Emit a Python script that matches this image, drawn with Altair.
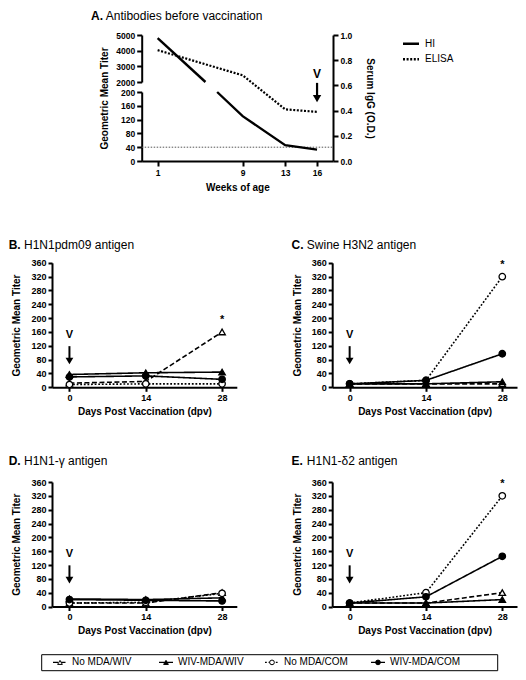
import altair as alt
import pandas as pd

# ---------------- data ----------------
GROUPS = ["No MDA/WIV", "WIV-MDA/WIV", "No MDA/COM", "WIV-MDA/COM"]
GROUP_SHAPES = ["triangle-up", "triangle-up", "circle", "circle"]
GROUP_FILLS = ["white", "black", "white", "black"]
GROUP_DASHES = [[5, 2.5], [1, 0], [1.8, 1.8], [1, 0]]

DAYS = [0, 14, 28]
TITER_TICKS = [0, 40, 80, 120, 160, 200, 240, 280, 320, 360]

# geometric mean titers at 0 / 14 / 28 dpv, one row per group (order of GROUPS)
B_TITERS = [[12, 17, 160], [37, 42, 44], [8, 10, 10], [30, 33, 23]]
C_TITERS = [[10, 10, 10], [10, 10, 16], [10, 20, 320], [10, 20, 97]]
D_TITERS = [[10, 10, 40], [22, 20, 25], [10, 12, 38], [20, 18, 16]]
E_TITERS = [[10, 10, 40], [10, 10, 20], [10, 40, 320], [10, 28, 145]]

B_STAR = 196
C_STAR = 353
E_STAR = 353

V_LABEL_TITER = 151
ARROW_TOP_TITER = 119
ARROW_HEAD_TITER = 76

# Panel A
WEEK_TICKS = [1, 9, 13, 16]
HI_UPPER_WEEKS = [1, 5.5]
HI_UPPER = [4800, 2000]
HI_LOWER_WEEKS = [6.6, 9, 13, 16]
HI_LOWER = [200, 130, 46, 33]
ELISA_WEEKS = [1, 9, 13, 16]
ELISA_OD = [0.88, 0.68, 0.41, 0.39]
HI_CUTOFF = 40
HI_LOW_TICKS = [0, 40, 80, 120, 160, 200]
HI_HIGH_TICKS = [2000, 3000, 4000, 5000]
OD_TICKS = [0.0, 0.2, 0.4, 0.6, 0.8, 1.0]
VACC_WEEK = 16
A_V_OD = 0.69
A_ARROW_TOP_OD = 0.62
A_ARROW_HEAD_OD = 0.495

# ---------------- layout (page pixels -> canvas pixels) ----------------
W, H = 510, 664
MARGIN = 8
FONT = "Liberation Sans"


def c(p):
    return p - MARGIN


A_WEEK_DOMAIN = [-0.5, 17.5]
A_X = [c(141.7), c(333)]
A_LOW_Y = [c(161), c(92)]
A_HIGH_Y = [c(82), c(35)]
A_OD_Y = [c(161), c(35)]

DAY_DOMAIN = [-3.2, 30.7]
LEFT_X = [c(52), c(236.8)]
RIGHT_X = [c(332.2), c(517)]
ROW1_Y = [c(387.3), c(262.8)]
ROW2_Y = [c(606.5), c(482)]

DASH_SCALE = alt.Scale(domain=GROUPS, range=GROUP_DASHES)
SHAPE_SCALE = alt.Scale(domain=GROUPS, range=GROUP_SHAPES)
FILL_SCALE = alt.Scale(domain=GROUPS, range=GROUP_FILLS)


def lin(domain, rng):
    return alt.Scale(domain=domain, range=rng, nice=False, zero=False)


def title_marks(letter, name, x, base, letter_w):
    t1 = alt.Chart(pd.DataFrame({"t": [letter]})).mark_text(
        align="left", baseline="alphabetic", fontSize=12, fontWeight="bold", color="black"
    ).encode(x=alt.value(x), y=alt.value(base), text="t:N")
    t2 = alt.Chart(pd.DataFrame({"t": [name]})).mark_text(
        align="left", baseline="alphabetic", fontSize=12, fontWeight="normal", color="black"
    ).encode(x=alt.value(x + letter_w), y=alt.value(base), text="t:N")
    return [t1, t2]


def panel(titers, xr, yr, star, letter, name, title_x, title_base):
    df = pd.DataFrame({
        "day": [d for _ in GROUPS for d in DAYS],
        "titer": [v for row in titers for v in row],
        "group": [g for g in GROUPS for _ in DAYS],
    })
    xs = lin(DAY_DOMAIN, xr)
    ys = lin([0, 360], yr)
    x_axis = alt.Axis(orient="bottom", offset=yr[0] - H, values=DAYS,
                      title="Days Post Vaccination (dpv)", titlePadding=4)
    y_axis = alt.Axis(orient="left", offset=-xr[0], values=TITER_TICKS,
                      title="Geometric Mean Titer", titlePadding=9)
    base = alt.Chart(df)
    lines = base.mark_line(color="black", strokeWidth=1.6).encode(
        x=alt.X("day:Q", scale=xs, axis=x_axis),
        y=alt.Y("titer:Q", scale=ys, axis=y_axis),
        strokeDash=alt.StrokeDash("group:N", scale=DASH_SCALE, legend=None),
        detail="group:N",
    )
    pts = base.mark_point(filled=True, size=42, stroke="black", strokeWidth=1.3, opacity=1).encode(
        x=alt.X("day:Q", scale=xs, axis=None),
        y=alt.Y("titer:Q", scale=ys, axis=None),
        shape=alt.Shape("group:N", scale=SHAPE_SCALE, legend=None),
        fill=alt.Fill("group:N", scale=FILL_SCALE, legend=None),
    )
    ann = pd.DataFrame({"day": [DAYS[0]], "v": [V_LABEL_TITER],
                        "top": [ARROW_TOP_TITER], "head": [ARROW_HEAD_TITER]})
    v_text = alt.Chart(ann).mark_text(text="V", fontSize=11, fontWeight="bold",
                                      baseline="middle", color="black").encode(
        x=alt.X("day:Q", scale=xs, axis=None), y=alt.Y("v:Q", scale=ys, axis=None))
    shaft = alt.Chart(ann).mark_rule(strokeWidth=2, color="black").encode(
        x=alt.X("day:Q", scale=xs, axis=None), y=alt.Y("top:Q", scale=ys, axis=None), y2="head:Q")
    head = alt.Chart(ann).mark_point(shape="triangle-down", filled=True, size=60,
                                     color="black", opacity=1).encode(
        x=alt.X("day:Q", scale=xs, axis=None), y=alt.Y("head:Q", scale=ys, axis=None))
    out = [lines, pts, v_text, shaft, head]
    if star is not None:
        sdf = pd.DataFrame({"day": [DAYS[-1]], "titer": [star]})
        out.append(alt.Chart(sdf).mark_text(text="*", fontSize=11, fontWeight="bold",
                                            baseline="middle", color="black").encode(
            x=alt.X("day:Q", scale=xs, axis=None), y=alt.Y("titer:Q", scale=ys, axis=None)))
    out += title_marks(letter, name, title_x, title_base, 15.3)
    return out


layers = []

# ---------------- Panel A ----------------
ax_s = lin(A_WEEK_DOMAIN, A_X)
low_s = lin([0, 200], A_LOW_Y)
high_s = lin([2000, 5000], A_HIGH_Y)
od_s = lin([0, 1], A_OD_Y)
A_LABEL = 8.5

a_x_axis = alt.Axis(orient="bottom", offset=A_LOW_Y[0] - H, values=WEEK_TICKS, title="Weeks of age",
                    titlePadding=6, labelFontSize=A_LABEL, tickSize=5)
a_low_axis = alt.Axis(orient="left", offset=-A_X[0], values=HI_LOW_TICKS, title="Geometric Mean Titer",
                      format="d", titleY=(A_OD_Y[0] + A_OD_Y[1]) / 2, titlePadding=11,
                      labelFontSize=A_LABEL, tickSize=5)
a_high_axis = alt.Axis(orient="left", offset=-A_X[0], values=HI_HIGH_TICKS, title="", format="d",
                       labelFontSize=A_LABEL, tickSize=5)
a_od_axis = alt.Axis(orient="right", offset=A_X[1] - W, values=OD_TICKS, format=".1f",
                     title="Serum IgG (O.D.)", titlePadding=13, labelFontSize=A_LABEL, tickSize=5)

hi_up_df = pd.DataFrame({"week": HI_UPPER_WEEKS, "hi": HI_UPPER})
hi_low_df = pd.DataFrame({"week": HI_LOWER_WEEKS, "hi": HI_LOWER})
elisa_df = pd.DataFrame({"week": ELISA_WEEKS, "od": ELISA_OD})
cut_df = pd.DataFrame({"w0": [A_WEEK_DOMAIN[0]], "w1": [A_WEEK_DOMAIN[1]], "hi": [HI_CUTOFF]})

layers.append(alt.Chart(cut_df).mark_rule(color="#555555", strokeWidth=1, strokeDash=[1.5, 1.5]).encode(
    x=alt.X("w0:Q", scale=ax_s, axis=a_x_axis), x2="w1:Q",
    y=alt.Y("hi:Q", scale=low_s, axis=a_low_axis)))
layers.append(alt.Chart(hi_up_df).mark_line(color="black", strokeWidth=2.4).encode(
    x=alt.X("week:Q", scale=ax_s, axis=None),
    y=alt.Y("hi:Q", scale=high_s, axis=a_high_axis)))
layers.append(alt.Chart(hi_low_df).mark_line(color="black", strokeWidth=2.4).encode(
    x=alt.X("week:Q", scale=ax_s, axis=None),
    y=alt.Y("hi:Q", scale=low_s, axis=None)))
layers.append(alt.Chart(elisa_df).mark_line(color="black", strokeWidth=2.2, strokeDash=[2, 1.6]).encode(
    x=alt.X("week:Q", scale=ax_s, axis=None),
    y=alt.Y("od:Q", scale=od_s, axis=a_od_axis)))

a_ann = pd.DataFrame({"week": [VACC_WEEK], "v": [A_V_OD], "top": [A_ARROW_TOP_OD], "head": [A_ARROW_HEAD_OD]})
layers.append(alt.Chart(a_ann).mark_text(text="V", fontSize=12, fontWeight="bold", baseline="middle",
                                         color="black").encode(
    x=alt.X("week:Q", scale=ax_s, axis=None), y=alt.Y("v:Q", scale=od_s, axis=None)))
layers.append(alt.Chart(a_ann).mark_rule(strokeWidth=2.2, color="black").encode(
    x=alt.X("week:Q", scale=ax_s, axis=None), y=alt.Y("top:Q", scale=od_s, axis=None), y2="head:Q"))
layers.append(alt.Chart(a_ann).mark_point(shape="triangle-down", filled=True, size=70, color="black",
                                          opacity=1).encode(
    x=alt.X("week:Q", scale=ax_s, axis=None), y=alt.Y("head:Q", scale=od_s, axis=None)))

# Panel A legend
A_LEG_NAMES = ["HI", "ELISA"]
A_LEG_Y = [c(43.7), c(59.3)]
A_LEG_DASH = [[1, 0], [2, 1.6]]
for nm, yy, dash in zip(A_LEG_NAMES, A_LEG_Y, A_LEG_DASH):
    d = pd.DataFrame({"t": [nm]})
    layers.append(alt.Chart(d).mark_rule(color="black", strokeWidth=2.4, strokeDash=dash).encode(
        x=alt.value(c(403)), x2=alt.value(c(419)), y=alt.value(yy)))
    layers.append(alt.Chart(d).mark_text(align="left", baseline="middle", fontSize=10, color="black").encode(
        x=alt.value(c(425)), y=alt.value(yy), text="t:N"))

layers += title_marks("A.", "Antibodies before vaccination", c(91), c(19.5), 14.7)

# ---------------- Panels B-E ----------------
layers += panel(B_TITERS, LEFT_X, ROW1_Y, B_STAR, "B.", "H1N1pdm09 antigen", c(8.7), c(248.5))
layers += panel(C_TITERS, RIGHT_X, ROW1_Y, C_STAR, "C.", "Swine H3N2 antigen", c(291.5), c(248.5))
layers += panel(D_TITERS, LEFT_X, ROW2_Y, None, "D.", "H1N1-\u03b3 antigen", c(8.7), c(465))
layers += panel(E_TITERS, RIGHT_X, ROW2_Y, E_STAR, "E.", "H1N1-\u03b42 antigen", c(291.5), c(465))

# ---------------- bottom legend ----------------
leg_df = pd.DataFrame({"idx": [0, 1, 2, 3], "group": GROUPS})
leg_x = lin([0, 3], [c(60), c(378)])
LEG_Y = c(662.4)
layers.append(alt.Chart(pd.DataFrame({"a": [0]})).mark_rect(
    fillOpacity=0, stroke="black", strokeWidth=1).encode(
    x=alt.value(c(41.7)), x2=alt.value(c(497.7)), y=alt.value(c(654.7)), y2=alt.value(c(670.7))))
layers.append(alt.Chart(leg_df).mark_rule(color="black", strokeWidth=1.3, xOffset=-7, x2Offset=7).encode(
    x=alt.X("idx:Q", scale=leg_x, axis=None), x2="idx:Q", y=alt.value(LEG_Y),
    strokeDash=alt.StrokeDash("group:N", scale=DASH_SCALE, legend=None)))
layers.append(alt.Chart(leg_df).mark_point(filled=True, size=22, stroke="black", strokeWidth=1,
                                           opacity=1).encode(
    x=alt.X("idx:Q", scale=leg_x, axis=None), y=alt.value(LEG_Y),
    shape=alt.Shape("group:N", scale=SHAPE_SCALE, legend=None),
    fill=alt.Fill("group:N", scale=FILL_SCALE, legend=None)))
layers.append(alt.Chart(leg_df).mark_text(align="left", baseline="middle", dx=12, fontSize=10,
                                          color="black").encode(
    x=alt.X("idx:Q", scale=leg_x, axis=None), y=alt.value(LEG_Y), text="group:N"))

chart = alt.layer(*layers).resolve_scale(
    x="independent", y="independent"
).properties(
    width=W, height=H, autosize="none", padding=0
).configure(
    font=FONT
).configure_view(
    stroke=None
).configure_axis(
    grid=False, domainColor="black", domainWidth=2, tickColor="black", tickWidth=2, tickSize=4,
    labelFont=FONT, labelFontWeight="bold", labelFontSize=9, labelColor="black", labelPadding=2,
    titleFont=FONT, titleFontWeight="bold", titleFontSize=10, titleColor="black",
    labelFlush=False, labelOverlap=False, minExtent=0
)

chart.save("out.html", embed_options={"renderer": "svg", "actions": False})
